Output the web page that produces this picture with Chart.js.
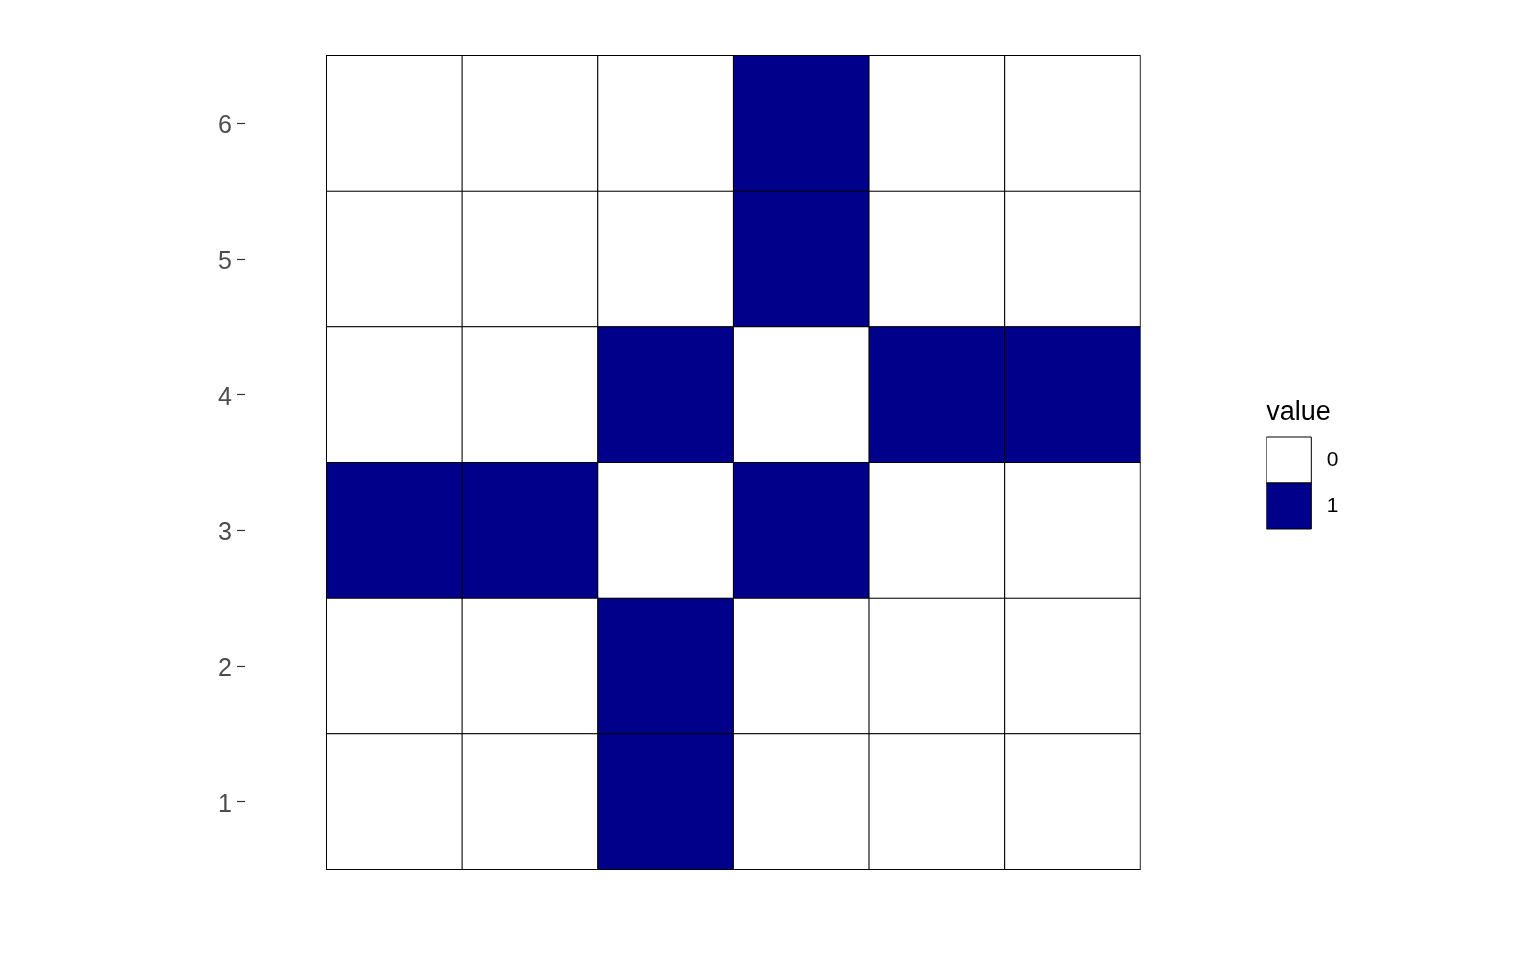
<!DOCTYPE html>
<html>
<head>
<meta charset="utf-8">
<script src="https://cdn.jsdelivr.net/npm/chart.js@4/dist/chart.umd.min.js"></script>
<style>
  html, body { margin: 0; padding: 0; background: #ffffff; }
  #wrap { width: 1536px; height: 960px; }
</style>
</head>
<body>
<div id="wrap"><canvas id="c" width="1536" height="960"></canvas></div>
<script>
// ---- data ----
const colLabels = ['1', '2', '3', '4', '5', '6'];
const rowLabels = ['1', '2', '3', '4', '5', '6'];
const row1 = [0, 0, 1, 0, 0, 0];
const row2 = [0, 0, 1, 0, 0, 0];
const row3 = [1, 1, 0, 1, 0, 0];
const row4 = [0, 0, 1, 0, 1, 1];
const row5 = [0, 0, 0, 1, 0, 0];
const row6 = [0, 0, 0, 1, 0, 0];
const legendValues = ['0', '1'];
const legendTitle = 'value';

// ---- styling ----
const fillColors = { 0: '#FFFFFF', 1: '#00008B' };
const rows = [row1, row2, row3, row4, row5, row6];
const FONT = "'Liberation Sans', Arial, sans-serif";

const datasets = rows.map((vals, i) => ({
  label: 'row ' + rowLabels[i],
  data: vals.map(() => 1),            // each tile spans one row unit
  backgroundColor: vals.map(v => fillColors[v]),
  borderColor: '#000000',
  borderWidth: 1,
  borderSkipped: false,
  inflateAmount: 0.5,
  barPercentage: 1,
  categoryPercentage: 1,
  clip: false
}));

new Chart(document.getElementById('c'), {
  type: 'bar',
  data: { labels: colLabels, datasets },
  options: {
    responsive: false,
    animation: false,
    layout: { padding: { top: 55.5, bottom: 90.5, left: 0, right: 192.5 } },
    scales: {
      x: {
        type: 'category',
        stacked: true,
        display: false
      },
      y: {
        type: 'linear',
        stacked: true,
        position: 'left',
        min: 0,
        max: rowLabels.length,
        afterBuildTicks: (scale) => {
          scale.ticks = rowLabels.map((l, i) => ({ value: i + 0.5 }));
        },
        afterFit: (scale) => { scale.width = 326.5; },
        ticks: {
          autoSkip: false,
          padding: 5,
          labelOffset: 3,
          color: '#4D4D4D',
          font: { family: FONT, size: 25 },
          callback: (v, i) => rowLabels[i]
        },
        grid: {
          display: true,
          drawOnChartArea: false,
          drawTicks: true,
          tickLength: 89.5,
          tickBorderDash: [8, 400],
          tickColor: '#333333',
          tickWidth: 1.2
        },
        border: { display: false }
      },
      y2: {
        type: 'linear',
        position: 'right',
        display: true,
        afterFit: (scale) => { scale.width = 126; },
        ticks: { display: false },
        grid: { display: false },
        border: { display: false }
      }
    },
    plugins: {
      tooltip: { enabled: false },
      legend: {
        display: true,
        position: 'right',
        align: 'center',
        title: {
          display: true,
          text: legendTitle,
          color: '#000000',
          position: 'start',
          font: { family: FONT, size: 27 },
          padding: { top: 3, bottom: 5.6 }
        },
        labels: {
          boxWidth: 45,
          boxHeight: 46,
          padding: 0,
          color: '#000000',
          textAlign: 'center',
          font: { family: FONT, size: 21 },
          generateLabels: () => legendValues.map((v) => ({
            text: v,
            fillStyle: fillColors[v],
            strokeStyle: '#000000',
            lineWidth: 1,
            hidden: false,
            datasetIndex: 0
          }))
        },
        onClick: () => {}
      }
    }
  }
});
</script>
</body>
</html>
